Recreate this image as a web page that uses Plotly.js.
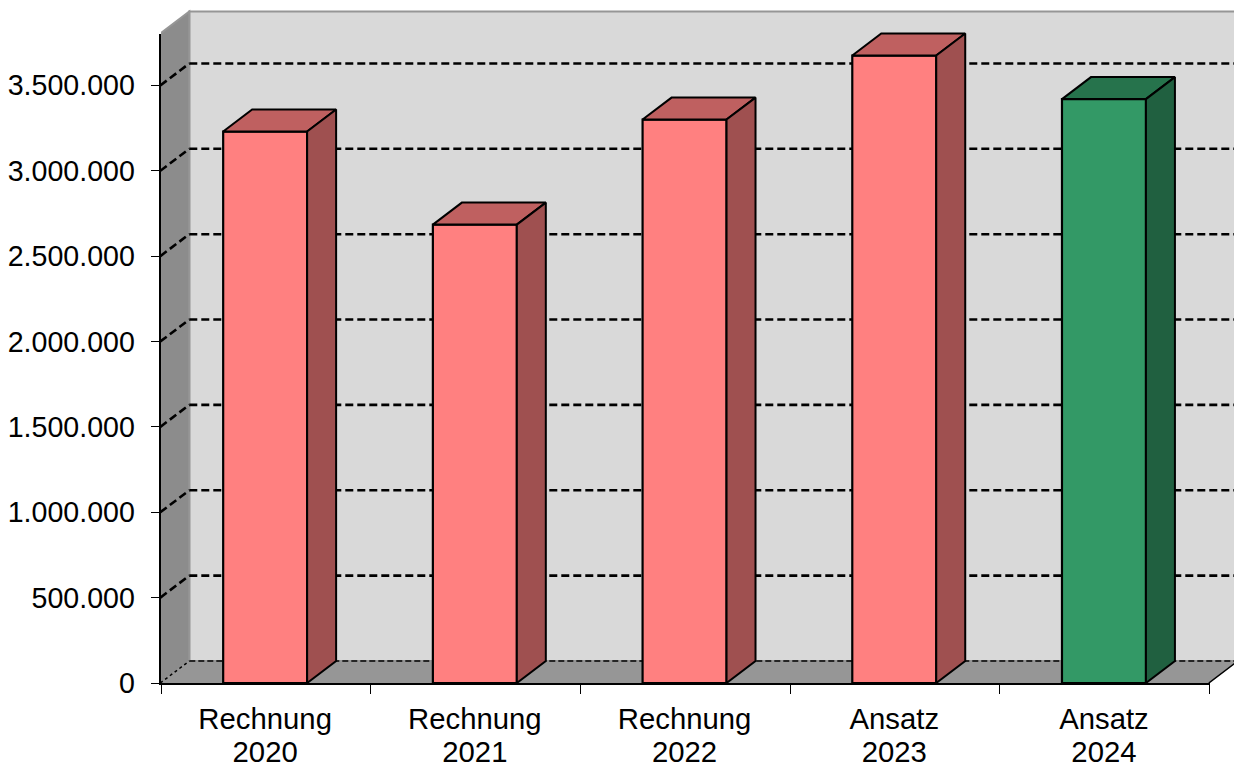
<!DOCTYPE html>
<html>
<head>
<meta charset="utf-8">
<script src="https://cdn.plot.ly/plotly-3.0.1.min.js"></script>
<style>html,body{margin:0;padding:0;background:#fff}</style>
</head>
<body>
<div id="chart" style="width:1234px;height:765px"></div>
<script>
const kinds = ["Rechnung", "Rechnung", "Rechnung", "Ansatz", "Ansatz"];
const years = ["2020", "2021", "2022", "2023", "2024"];
const values = [3230000, 2685000, 3300000, 3675000, 3420000];
const frontColors = ["#ff8080", "#ff8080", "#ff8080", "#ff8080", "#339966"];
const topColors = ["#bf6060", "#bf6060", "#bf6060", "#bf6060", "#26734c"];
const sideColors = ["#9f5050", "#9f5050", "#9f5050", "#9f5050", "#206040"];
const gridValues = [500000, 1000000, 1500000, 2000000, 2500000, 3000000, 3500000];

// Scale: one category = 209.8 px, 500.000 = 85.43 px
const W = 1234, H = 765, L = 160.5, B = 81.5;
const catPx = 209.8, unitPx = 85.43 / 500000;
const depthX = 29 / catPx, depthY = 22 / unitPx;
const barW = 84 / catPx;
const axisTop = 3804000;
const xStart = 0.7 / catPx;
const xMax = xStart + (W - L) / catPx, yMax = (H - B) / unitPx;
const centers = years.map((_, i) => i + 0.5);

const traces = [];
traces.push({
  type: "bar", x: centers, y: values, width: barW,
  marker: {color: frontColors, line: {color: "#000", width: 2.2}},
  hoverinfo: "skip", showlegend: false
});
values.forEach((v, i) => {
  const a = centers[i] - barW / 2, b = centers[i] + barW / 2;
  traces.push({
    type: "scatter", mode: "lines", fill: "toself", fillcolor: topColors[i],
    x: [a, b, b + depthX, a + depthX, a], y: [v, v, v + depthY, v + depthY, v],
    line: {color: "#000", width: 2}, hoverinfo: "skip", showlegend: false
  });
  traces.push({
    type: "scatter", mode: "lines", fill: "toself", fillcolor: sideColors[i],
    x: [b, b + depthX, b + depthX, b, b], y: [0, depthY, v + depthY, v, 0],
    line: {color: "#000", width: 2}, hoverinfo: "skip", showlegend: false
  });
});
// carrier of the value and category-boundary axes
traces.push({type: "scatter", mode: "markers", x: [0], y: [0], xaxis: "x2", yaxis: "y2",
  marker: {opacity: 0, size: 1}, hoverinfo: "skip", showlegend: false});
traces.push({type: "scatter", mode: "markers", x: [0.5], y: [0], xaxis: "x3", yaxis: "y",
  marker: {opacity: 0, size: 1}, hoverinfo: "skip", showlegend: false});

const shapes = [];
const wallEdge = {color: "#969696", width: 2};
shapes.push({type: "rect", layer: "below", xref: "x", yref: "y",
  x0: depthX, x1: xMax + 1, y0: depthY, y1: axisTop + depthY,
  fillcolor: "#d9d9d9", line: wallEdge});
shapes.push({type: "path", layer: "below", xref: "x", yref: "y",
  path: `M0,0 L0,${axisTop} L${depthX},${axisTop + depthY} L${depthX},${depthY} Z`,
  fillcolor: "#8c8c8c", line: wallEdge});
shapes.push({type: "path", layer: "below", xref: "x", yref: "y",
  path: `M0,0 L${depthX},${depthY} L${5 + depthX},${depthY} L5,0 Z`,
  fillcolor: "#969696", line: {color: "#969696", width: 1}});
// dashed gridlines: diagonal on the side wall and horizontal on the back wall
gridValues.forEach(v => {
  const grid = {color: "#000", width: 2.6, dash: "8px,4px"};
  shapes.push({type: "line", layer: "below", xref: "x", yref: "y",
    x0: 0, y0: v, x1: depthX, y1: v + depthY, line: grid});
  shapes.push({type: "line", layer: "below", xref: "x", yref: "y",
    x0: depthX, y0: v + depthY, x1: xMax + 1, y1: v + depthY, line: grid});
});
const floorDash = {color: "#000", width: 1.5, dash: "6px,3px"};
shapes.push({type: "line", layer: "below", xref: "x", yref: "y",
  x0: 0, y0: 0, x1: depthX, y1: depthY, line: {color: "#000", width: 1.5, dash: "3px,3px"}});
shapes.push({type: "line", layer: "below", xref: "x", yref: "y",
  x0: depthX, y0: depthY, x1: xMax + 1, y1: depthY, line: floorDash});
shapes.push({type: "line", layer: "below", xref: "x", yref: "y",
  x0: 5, y0: 0, x1: 5 + depthX, y1: depthY, line: {color: "#000", width: 1.5}});

const font = {family: "Liberation Sans, Arial, sans-serif", size: 28.6, color: "#000"};
const xFont = {family: "Liberation Sans, Arial, sans-serif", size: 29.3, color: "#000"};
const xSplit = 5 * catPx / (W - L);
const ySplit = axisTop / yMax;

const layout = {
  width: W, height: H,
  margin: {l: L, r: 0, t: 0, b: B, pad: 0},
  paper_bgcolor: "#fff", plot_bgcolor: "rgba(0,0,0,0)",
  showlegend: false, bargap: 0, separators: ",.",
  shapes: shapes,
  xaxis: {
    domain: [0, 1], range: [xStart, xMax], anchor: "y", showgrid: false, zeroline: false,
    showline: false, ticks: "", tickmode: "array", tickvals: centers, ticktext: kinds,
    tickfont: xFont, ticklabelstandoff: 16, tickangle: 0
  },
  xaxis3: {
    overlaying: "x", matches: "x", anchor: "y", side: "bottom", range: [xStart, xMax],
    showgrid: false, zeroline: false, showline: false, ticks: "",
    tickmode: "array", tickvals: centers, ticktext: years, tickfont: xFont,
    ticklabelstandoff: 49, tickangle: 0
  },
  yaxis: {
    domain: [0, 1], range: [0, yMax], anchor: "x",
    showgrid: false, zeroline: false, showline: false, showticklabels: false, ticks: ""
  },
  xaxis2: {
    domain: [0, xSplit], range: [0, 5], anchor: "y2", showgrid: false, zeroline: false,
    showline: true, linecolor: "#000", linewidth: 2.4, showticklabels: false,
    ticks: "outside", ticklen: 9, tickwidth: 1, tickcolor: "#000", tick0: 0, dtick: 1
  },
  yaxis2: {
    domain: [0, ySplit], range: [0, axisTop], anchor: "x2", showgrid: false, zeroline: false,
    showline: true, linecolor: "#000", linewidth: 2.4,
    ticks: "outside", ticklen: 8, tickwidth: 1, tickcolor: "#000",
    tick0: 0, dtick: 500000, tickformat: ",d", tickfont: font, ticklabelstandoff: 10
  }
};

Plotly.newPlot("chart", traces, layout, {displayModeBar: false, staticPlot: true});
</script>
</body>
</html>
